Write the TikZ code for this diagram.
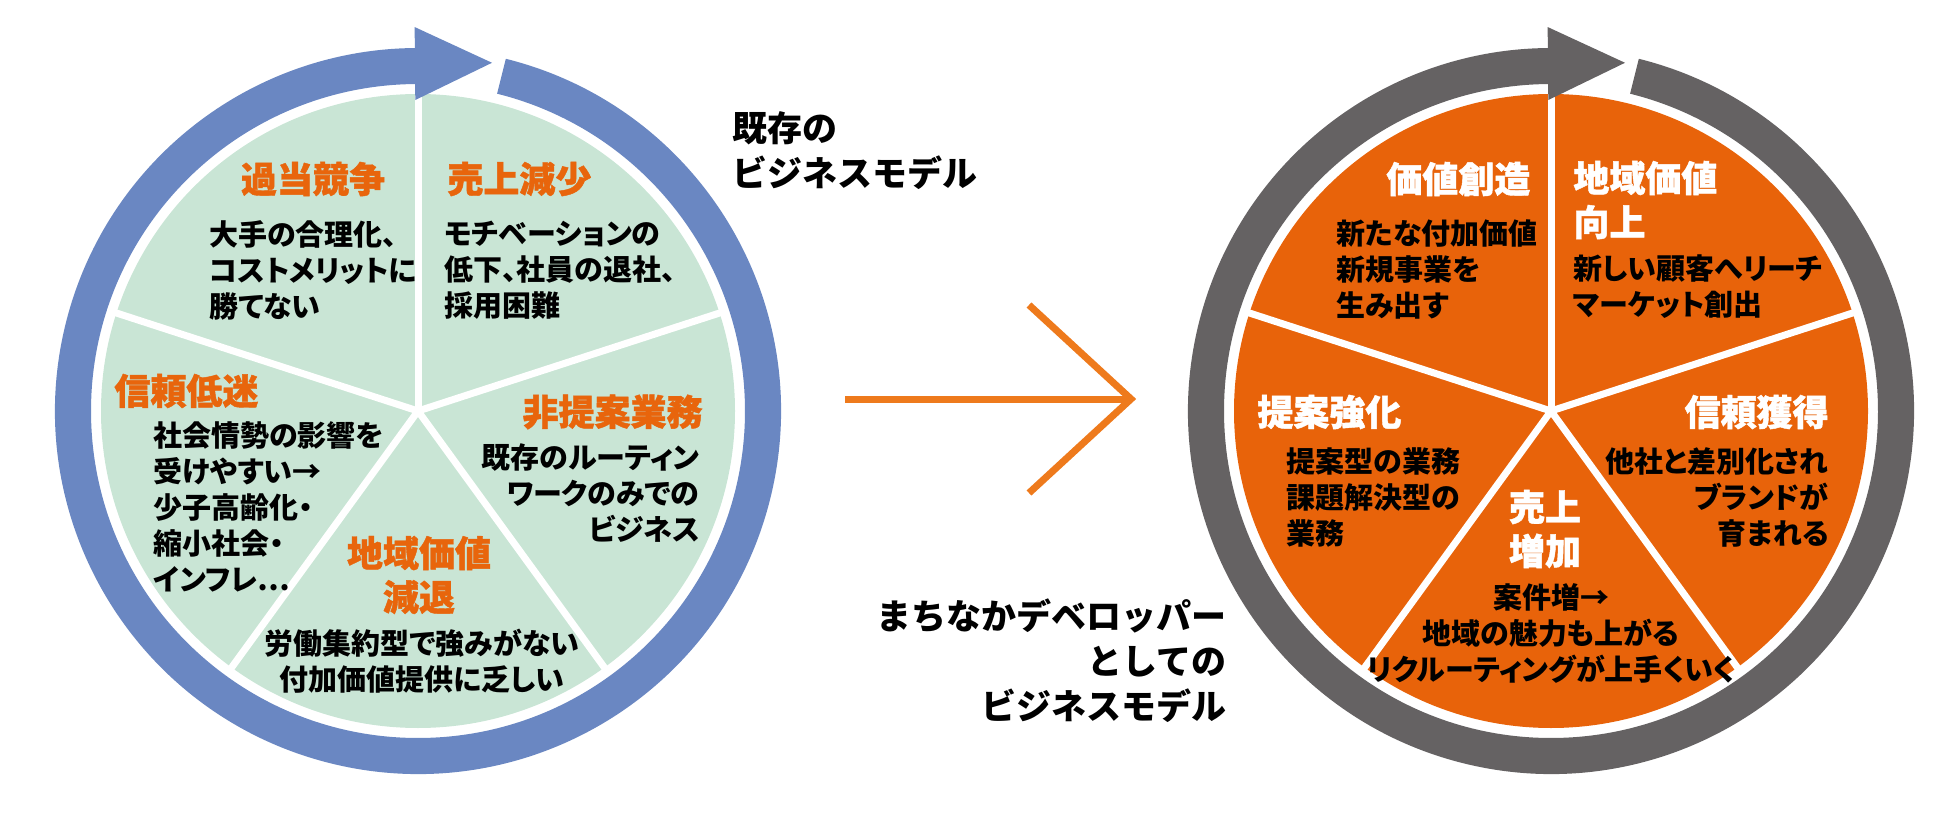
\documentclass[tikz,border=0pt]{standalone}
\usepackage{fontspec}
\newfontfamily\jp[RawFeature=+palt]{Noto Sans CJK JP}
\newfontfamily\jpwide{Noto Sans CJK JP}
\newfontfamily\jpheavy[RawFeature=+palt, BoldFeatures={FakeBold=1.2}]{Noto Sans CJK JP}
\definecolor{ringblue}{HTML}{6A87C2}
\definecolor{ringgray}{HTML}{656263}
\definecolor{piegreen}{HTML}{C9E5D5}
\definecolor{pieorange}{HTML}{E8630A}
\definecolor{headorange}{HTML}{E8650C}
\definecolor{arroworange}{HTML}{EE7A1C}
\tikzset{
  head/.style={font=\jpheavy\bfseries\fontsize{18}{22}\selectfont},
  body/.style={font=\jp\bfseries\fontsize{14.5}{18}\selectfont},
  caption/.style={font=\jpwide\bfseries\fontsize{17.5}{22.5}\selectfont}
}
\begin{document}
\begin{tikzpicture}[x=0.5pt, y=0.5pt, every node/.style={inner sep=0pt}]
  \useasboundingbox (0,0) rectangle (1950,821);

  % two wheels
  \foreach \cx/\rc/\pc in {418/ringblue/piegreen, 1551/ringgray/pieorange}{
    \begin{scope}[xshift=\cx*0.5pt, yshift=205pt]
      \fill[\pc] (0,0) circle (317);
      \foreach \a in {18,90,...,306}
        \draw[white, line width=3.5pt] (0,0) -- (\a:322);
      \fill[\rc] (76:363) arc (76:-269.5:363) -- (-269.5:327) arc (-269.5:76:327) -- cycle;
      \fill[\rc] (90.5:311) -- (90.5:384) -- (78:356) -- cycle;
    \end{scope}
  }

  % old model
  \node[head, headorange] (kyoso) at (313,642) {過当競争};
  \node[body, anchor=west, align=left] (kyosoTxt) at (209,551) {大手の合理化、\\コストメリットに\\勝てない};
  \node[head, headorange, anchor=west] (genshou) at (447,642) {売上減少};
  \node[body, anchor=west, align=left] (genshouTxt) at (444,551) {モチベーションの\\低下、社員の退社、\\採用困難};
  \node[head, headorange, anchor=west] (teimei) at (114,430) {信頼低迷};
  \node[body, anchor=west, align=left] (teimeiTxt) at (153,314) {社会情勢の影響を\\受けやすい→\\少子高齢化・\\縮小社会・\\インフレ…};
  \node[head, headorange, anchor=east] (hiteian) at (703,409) {非提案業務};
  \node[body, anchor=east, align=right] (hiteianTxt) at (700,328) {既存のルーティン\\ワークのみでの\\ビジネス};
  \node[head, headorange, align=center] (gentai) at (419,246) {地域価値\\減退};
  \node[body, align=center] (gentaiTxt) at (422,160) {労働集約型で強みがない\\付加価値提供に乏しい};

  % captions
  \node[caption, anchor=west, align=left] (oldCap) at (732,670) {既存の\\ビジネスモデル};
  \node[caption, anchor=east, align=right] (newCap) at (1227,160) {まちなかデベロッパー\\としての\\ビジネスモデル};

  % arrow between
  \coordinate (arrS) at (845,422);
  \coordinate (arrE) at (1131,422);
  \coordinate (arrU) at (1029,516);
  \coordinate (arrD) at (1029,328);
  \draw[arroworange, line width=3.5pt] (arrS) -- (arrE);
  \draw[arroworange, line width=3.5pt] (arrU) -- (arrE) -- (arrD);

  % new model
  \node[head, white, anchor=west] (souzou) at (1386,642) {価値創造};
  \node[body, anchor=west, align=left] (souzouTxt) at (1336,552) {新たな付加価値\\新規事業を\\生み出す};
  \node[head, white, anchor=west, align=left] (koujou) at (1573,621) {地域価値\\向上};
  \node[body, anchor=west, align=left] (koujouTxt) at (1573,534) {新しい顧客へリーチ\\マーケット創出};
  \node[head, white, anchor=west] (kyouka) at (1257,409) {提案強化};
  \node[body, anchor=west, align=left] (kyoukaTxt) at (1286,324) {提案型の業務\\課題解決型の\\業務};
  \node[head, white, anchor=east] (kakutoku) at (1829,409) {信頼獲得};
  \node[body, anchor=east, align=right] (kakutokuTxt) at (1829,324) {他社と差別化され\\ブランドが\\育まれる};
  \node[head, white, align=center] (zouka) at (1545,292) {売上\\増加};
  \node[body, align=center] (zoukaTxt) at (1551,188) {案件増→\\地域の魅力も上がる\\リクルーティングが上手くいく};
\end{tikzpicture}
\end{document}
